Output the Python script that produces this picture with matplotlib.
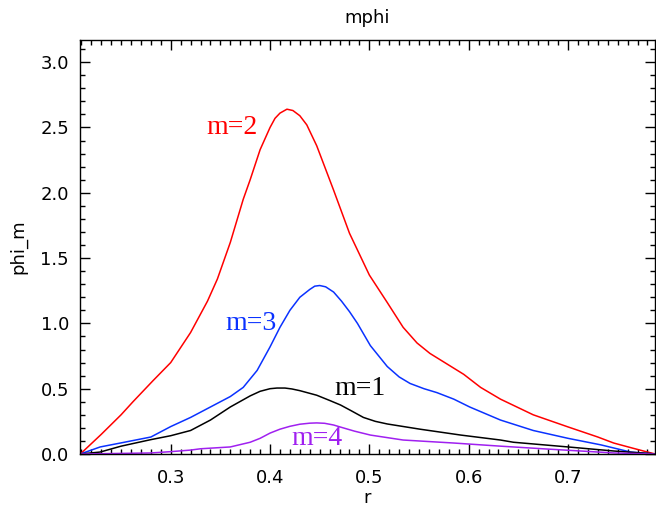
import matplotlib
matplotlib.use("Agg")
import matplotlib.pyplot as plt
from matplotlib.ticker import MultipleLocator

# ---- data ----
r_m2 = [0.209, 0.23, 0.25, 0.262, 0.282, 0.30, 0.32, 0.337, 0.347, 0.36, 0.373, 0.38, 0.39, 0.40,
        0.405, 0.41, 0.417, 0.423, 0.43, 0.437, 0.447, 0.455, 0.464, 0.48, 0.50, 0.518, 0.534,
        0.548, 0.561, 0.578, 0.595, 0.612, 0.632, 0.665, 0.699, 0.73, 0.746, 0.765, 0.78, 0.788]
v_m2 = [0.0, 0.15, 0.30, 0.40, 0.56, 0.70, 0.93, 1.17, 1.34, 1.62, 1.95, 2.10, 2.33, 2.50,
        2.57, 2.61, 2.64, 2.63, 2.59, 2.52, 2.36, 2.20, 2.02, 1.69, 1.37, 1.16, 0.97,
        0.85, 0.77, 0.69, 0.61, 0.51, 0.42, 0.30, 0.21, 0.13, 0.084, 0.045, 0.015, 0.0]

r_m3 = [0.209, 0.229, 0.25, 0.28, 0.30, 0.32, 0.34, 0.36, 0.373, 0.387, 0.40, 0.41, 0.42, 0.43,
        0.44, 0.445, 0.45, 0.456, 0.464, 0.472, 0.48, 0.488, 0.501, 0.518, 0.53, 0.541, 0.555,
        0.568, 0.585, 0.601, 0.632, 0.665, 0.70, 0.733, 0.763, 0.788]
v_m3 = [0.0, 0.054, 0.085, 0.13, 0.21, 0.28, 0.36, 0.44, 0.51, 0.64, 0.82, 0.97, 1.10, 1.20,
        1.26, 1.285, 1.29, 1.28, 1.24, 1.17, 1.09, 1.00, 0.83, 0.67, 0.59, 0.54, 0.50,
        0.47, 0.42, 0.36, 0.26, 0.18, 0.12, 0.07, 0.015, 0.0]

r_m1 = [0.209, 0.229, 0.25, 0.28, 0.30, 0.32, 0.34, 0.36, 0.38, 0.39, 0.40, 0.407, 0.415, 0.422,
        0.43, 0.447, 0.46, 0.471, 0.482, 0.494, 0.506, 0.518, 0.551, 0.592, 0.632, 0.645, 0.70,
        0.746, 0.788]
v_m1 = [0.0, 0.015, 0.06, 0.11, 0.14, 0.18, 0.26, 0.36, 0.445, 0.48, 0.50, 0.505, 0.505, 0.498,
        0.485, 0.45, 0.41, 0.375, 0.33, 0.28, 0.25, 0.23, 0.19, 0.145, 0.107, 0.09, 0.054,
        0.023, 0.0]

r_m4 = [0.209, 0.28, 0.30, 0.32, 0.33, 0.36, 0.38, 0.39, 0.40, 0.41, 0.42, 0.43, 0.44, 0.447,
        0.455, 0.464, 0.471, 0.485, 0.501, 0.534, 0.585, 0.632, 0.679, 0.746, 0.788]
v_m4 = [0.0, 0.008, 0.018, 0.03, 0.04, 0.054, 0.09, 0.12, 0.16, 0.19, 0.212, 0.228, 0.236, 0.238,
        0.235, 0.222, 0.206, 0.175, 0.145, 0.107, 0.084, 0.06, 0.038, 0.008, 0.0]

labels = ["m=2", "m=3", "m=1", "m=4"]
label_pos = [(0.362, 2.50), (0.381, 1.0), (0.491, 0.50), (0.447, 0.12)]
colors = ["#ff0000", "#0a32ff", "#000000", "#a020f0"]

fig = plt.figure(figsize=(6.56, 5.08), dpi=100)
ax = fig.add_axes([0.122, 0.1063, 0.8765, 0.815])

series = [(r_m2, v_m2), (r_m3, v_m3), (r_m1, v_m1), (r_m4, v_m4)]
for (r, v), c in zip(series, colors):
    ax.plot(r, v, color=c, lw=1.1)

for lab, (x, y), c in zip(labels, label_pos, colors):
    ax.text(x, y, lab, color=c, fontsize=20, family="Liberation Serif",
            ha="center", va="center")

ax.set_xlim(0.2087, 0.7876)
ax.set_ylim(0.0, 3.17)
ax.xaxis.set_major_locator(MultipleLocator(0.1))
ax.xaxis.set_minor_locator(MultipleLocator(0.01))
ax.yaxis.set_major_locator(MultipleLocator(0.5))
ax.yaxis.set_minor_locator(MultipleLocator(0.1))
ax.tick_params(which="both", direction="in", top=True, right=True, width=1)
ax.tick_params(which="major", length=7.5, labelsize=13, pad=8)
ax.tick_params(axis="x", which="major", pad=11)
ax.tick_params(which="minor", length=3.8)
ax.set_xticks([0.3, 0.4, 0.5, 0.6, 0.7])
ax.set_xticklabels(["0.3", "0.4", "0.5", "0.6", "0.7"])
ax.set_yticks([0.0, 0.5, 1.0, 1.5, 2.0, 2.5, 3.0])
ax.set_yticklabels(["0.0", "0.5", "1.0", "1.5", "2.0", "2.5", "3.0"])
for s in ax.spines.values():
    s.set_linewidth(1.0)

ax.set_title("mphi", fontsize=13, pad=12)
ax.set_xlabel("r", fontsize=13, labelpad=1)
ax.set_ylabel("phi_m", fontsize=13, labelpad=9)

fig.savefig("out.png", dpi=100)
